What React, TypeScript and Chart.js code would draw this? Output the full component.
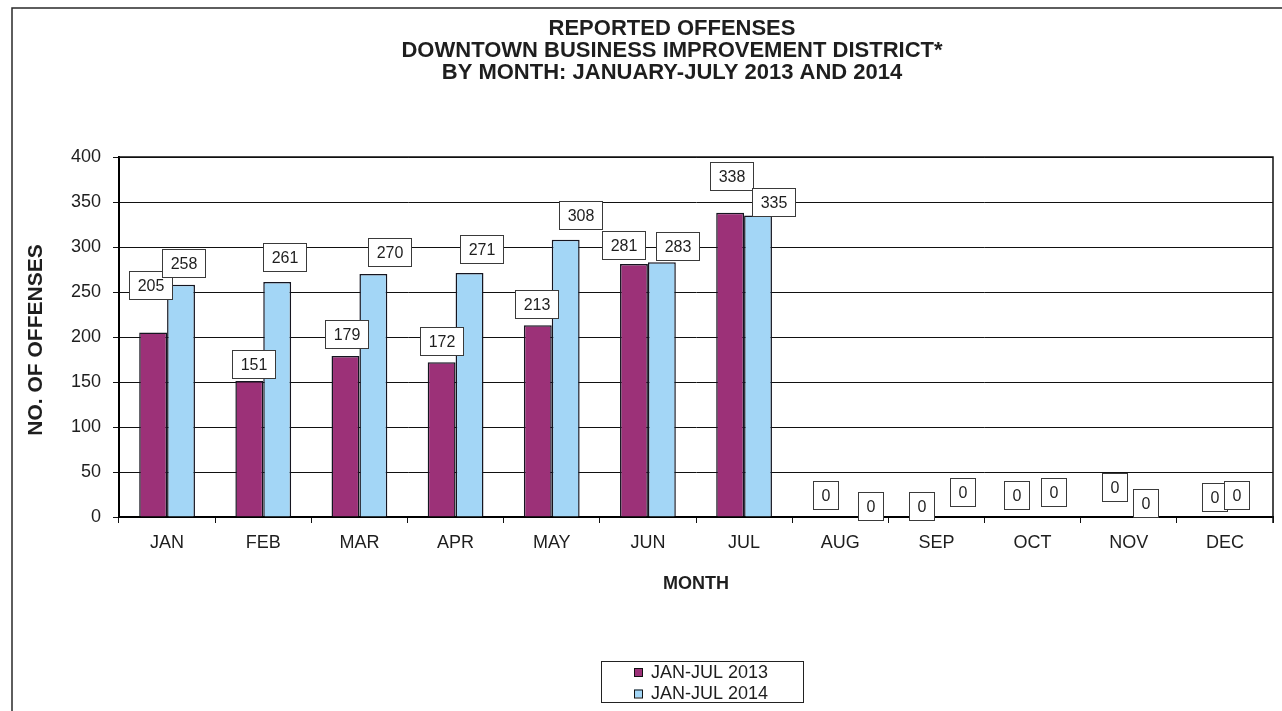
import React, { useEffect, useRef } from 'react';
import { Chart, registerables } from 'chart.js';

Chart.register(...registerables);

const months = ['JAN', 'FEB', 'MAR', 'APR', 'MAY', 'JUN', 'JUL', 'AUG', 'SEP', 'OCT', 'NOV', 'DEC'];
const offenses2013 = [205, 151, 179, 172, 213, 281, 338, 0, 0, 0, 0, 0];
const offenses2014 = [258, 261, 270, 271, 308, 283, 335, 0, 0, 0, 0, 0];
const yTickValues = [0, 50, 100, 150, 200, 250, 300, 350, 400];
const titleLines = [
  'REPORTED OFFENSES',
  'DOWNTOWN BUSINESS IMPROVEMENT DISTRICT*',
  'BY MONTH: JANUARY-JULY 2013 AND 2014',
];
const legendLabels = ['JAN-JUL 2013', 'JAN-JUL 2014'];
const xAxisTitle = 'MONTH';
const yAxisTitle = 'NO. OF OFFENSES';

// small label nudges (px) relative to default spot above each bar, as in the source
const labelNudge2013 = [[-3, -30], [4, 1], [1, -4], [0, -3], [-1, -3], [-10, -1], [1, -19], [-1, -4], [-1, 7], [-2, -4], [0, -12], [4, -2]];
const labelNudge2014 = [[2, -4], [7, -7], [16, -4], [12, -6], [15, -7], [16, 2], [15, 4], [16, 7], [12, -7], [7, -7], [3, 4], [-2, -4]];

const COLOR_2013 = '#9c3178';
const COLOR_2014 = '#a3d6f6';
const FONT = '"Liberation Sans", Arial, sans-serif';
const TEXT = '#1e1e1e';

const decorPlugin = {
  id: 'decor',
  beforeDraw(chart: any) {
    const ctx = chart.ctx;
    ctx.save();
    ctx.fillStyle = '#ffffff';
    ctx.fillRect(0, 0, chart.width, chart.height);
    ctx.restore();
  },
  afterDatasetsDraw(chart: any) {
    const ctx = chart.ctx;
    const nudges = [labelNudge2013, labelNudge2014];
    ctx.save();
    ctx.font = `16px ${FONT}`;
    ctx.textAlign = 'center';
    ctx.textBaseline = 'middle';
    chart.data.datasets.forEach((ds: any, di: number) => {
      const meta = chart.getDatasetMeta(di);
      meta.data.forEach((bar: any, i: number) => {
        const txt = String(ds.data[i]);
        const [dx, dy] = nudges[di][i];
        const cx = bar.x + dx;
        const cy = bar.y - 18 + dy;
        const w = Math.round(ctx.measureText(txt).width + 16);
        const h = 28;
        const x0 = Math.round(cx - w / 2) + 0.5;
        const y0 = Math.round(cy - h / 2) + 0.5;
        ctx.fillStyle = '#ffffff';
        ctx.fillRect(x0, y0, w, h);
        ctx.strokeStyle = '#3a3a3a';
        ctx.lineWidth = 1;
        ctx.strokeRect(x0, y0, w, h);
        ctx.fillStyle = TEXT;
        ctx.fillText(txt, x0 + w / 2, y0 + h / 2 + 1);
      });
    });
    ctx.restore();
  },
  afterDraw(chart: any) {
    const ctx = chart.ctx;
    const area = chart.chartArea;
    ctx.save();
    // outer frame (top and left edges visible)
    ctx.strokeStyle = '#2a2a2a';
    ctx.lineWidth = 1.5;
    ctx.beginPath();
    ctx.moveTo(12, chart.height);
    ctx.lineTo(12, 8);
    ctx.lineTo(chart.width, 8);
    ctx.stroke();
    // plot top and right border
    ctx.strokeStyle = '#111';
    ctx.lineWidth = 1.5;
    ctx.beginPath();
    ctx.moveTo(area.left, area.top);
    ctx.lineTo(area.right, area.top);
    ctx.lineTo(area.right, area.bottom + 6);
    ctx.stroke();

    // title
    ctx.fillStyle = TEXT;
    ctx.font = `bold 22px ${FONT}`;
    ctx.textAlign = 'center';
    ctx.textBaseline = 'middle';
    titleLines.forEach((line, i) => {
      ctx.fillText(line, 672, 29 + i * 22);
    });

    // x axis title
    ctx.font = `bold 18px ${FONT}`;
    ctx.fillText(xAxisTitle, (area.left + area.right) / 2, 584);

    // y axis title
    ctx.save();
    ctx.translate(36, 340);
    ctx.rotate(-Math.PI / 2);
    ctx.font = `bold 21px ${FONT}`;
    ctx.fillText(yAxisTitle, 0, 0);
    ctx.restore();

    // legend
    const lx = 601.5, ly = 661.5, lw = 202, lh = 41;
    ctx.fillStyle = '#ffffff';
    ctx.fillRect(lx, ly, lw, lh);
    ctx.strokeStyle = '#222';
    ctx.lineWidth = 1;
    ctx.strokeRect(lx, ly, lw, lh);
    const colors = [COLOR_2013, COLOR_2014];
    ctx.font = `18px ${FONT}`;
    ctx.textAlign = 'left';
    legendLabels.forEach((lab, i) => {
      const cy = 672 + i * 21.5;
      ctx.fillStyle = colors[i];
      ctx.fillRect(634, cy - 4, 8, 8);
      ctx.strokeStyle = '#111';
      ctx.lineWidth = 1;
      ctx.strokeRect(634.5, cy - 3.5, 8, 8);
      ctx.fillStyle = TEXT;
      ctx.fillText(lab, 651, cy + 1);
    });
    ctx.restore();
  },
};

export default function App() {
  const canvasRef = useRef<HTMLCanvasElement | null>(null);

  useEffect(() => {
    if (!canvasRef.current) return;
    const chart = new Chart(canvasRef.current, {
      type: 'bar',
      data: {
        labels: months,
        datasets: [
          {
            label: legendLabels[0],
            data: offenses2013,
            backgroundColor: COLOR_2013,
            borderColor: '#151520',
            borderWidth: 1.5,
            categoryPercentage: 0.58,
            barPercentage: 1.0,
          },
          {
            label: legendLabels[1],
            data: offenses2014,
            backgroundColor: COLOR_2014,
            borderColor: '#151520',
            borderWidth: 1.5,
            categoryPercentage: 0.58,
            barPercentage: 1.0,
          },
        ],
      },
      options: {
        responsive: false,
        animation: false,
        devicePixelRatio: 1,
        layout: { padding: { left: 0, right: 9, top: 157, bottom: 94 } },
        plugins: {
          legend: { display: false },
          title: { display: false },
          tooltip: { enabled: false },
        },
        scales: {
          x: {
            grid: {
              display: true,
              drawOnChartArea: false,
              drawTicks: true,
              tickLength: 6,
              offset: true,
              color: '#111',
              lineWidth: 1,
            },
            border: { display: true, color: '#000', width: 2 },
            ticks: {
              color: TEXT,
              font: { family: FONT, size: 18 },
              padding: 9,
              maxRotation: 0,
            },
            afterFit: (s: any) => {
              s.height = 100;
            },
          },
          y: {
            min: 0,
            max: 400,
            afterBuildTicks: (s: any) => {
              s.ticks = yTickValues.map((v) => ({ value: v }));
            },
            grid: {
              color: '#111',
              lineWidth: 1,
              tickLength: 6,
              drawTicks: true,
            },
            border: { display: true, color: '#000', width: 2 },
            ticks: {
              color: TEXT,
              font: { family: FONT, size: 18 },
              padding: 12,
            },
            afterFit: (s: any) => {
              s.width = 119;
            },
          },
        },
      },
      plugins: [decorPlugin],
    });
    return () => chart.destroy();
  }, []);

  return (
    <div style={{ position: 'absolute', left: 0, top: 0, width: 1282, height: 711, overflow: 'hidden' }}>
      <canvas ref={canvasRef} width={1282} height={711} style={{ display: 'block', width: 1282, height: 711 }} />
    </div>
  );
}
